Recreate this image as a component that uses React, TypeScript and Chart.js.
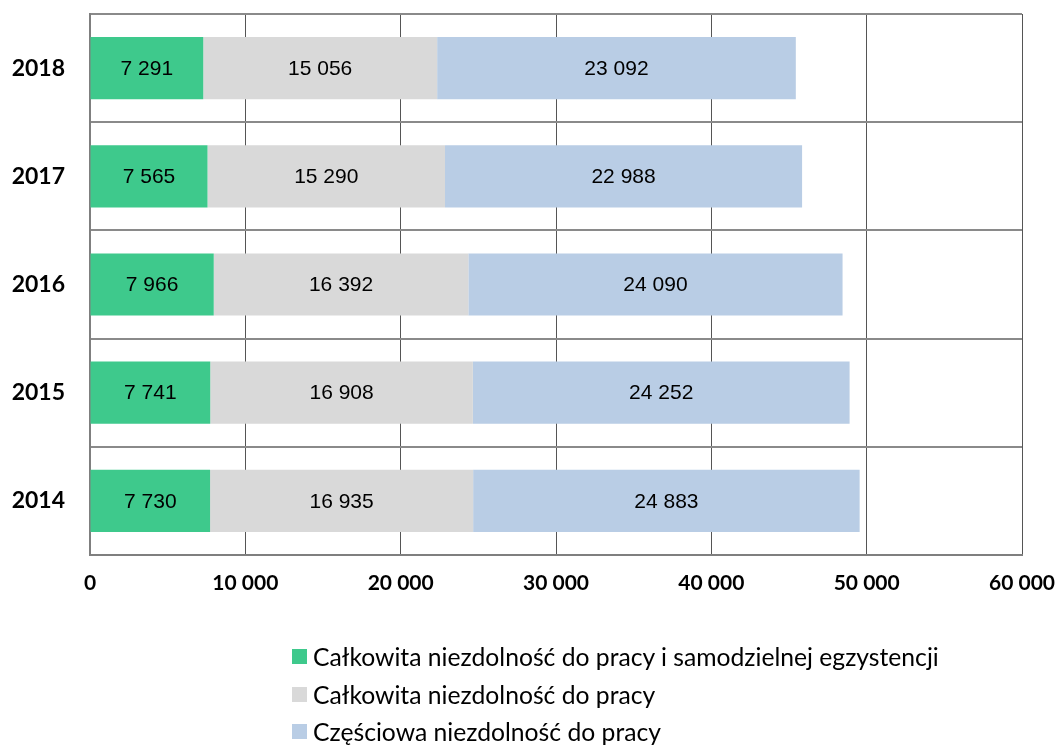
import React, { useEffect, useRef } from "react";
import { Chart, registerables } from "chart.js";

Chart.register(...registerables);

const years = ["2018", "2017", "2016", "2015", "2014"];
const seriesNames = [
  "Całkowita niezdolność do pracy i samodzielnej egzystencji",
  "Całkowita niezdolność do pracy",
  "Częściowa niezdolność do pracy",
];
const totalIncapacityIndependent = [7291, 7565, 7966, 7741, 7730];
const totalIncapacity = [15056, 15290, 16392, 16908, 16935];
const partialIncapacity = [23092, 22988, 24090, 24252, 24883];
const seriesColors = ["#3EC98C", "#D9D9D9", "#B9CDE5"];
const xMax = 60000;
const xStep = 10000;

const fmt = (v: number) => String(Math.round(v)).replace(/\B(?=(\d{3})+(?!\d))/g, " ");

const labelPlugin = {
  id: "barLabels",
  afterDatasetsDraw(chart: any) {
    const ctx = chart.ctx;
    ctx.save();
    ctx.font = "21px 'Liberation Sans', Arial, sans-serif";
    ctx.fillStyle = "#000";
    ctx.textAlign = "center";
    ctx.textBaseline = "middle";
    chart.data.datasets.forEach((ds: any, i: number) => {
      const meta = chart.getDatasetMeta(i);
      meta.data.forEach((el: any, j: number) => {
        const cx = (el.x + el.base) / 2;
        ctx.fillText(fmt(ds.data[j]), cx, el.y + 1);
      });
    });
    ctx.restore();
  },
};

export default function App() {
  const ref = useRef<HTMLCanvasElement>(null);
  useEffect(() => {
    document.body.style.margin = "0";
    const chart = new Chart(ref.current!, {
      type: "bar",
      data: {
        labels: years,
        datasets: [totalIncapacityIndependent, totalIncapacity, partialIncapacity].map((d, i) => ({
          label: seriesNames[i],
          data: d,
          backgroundColor: seriesColors[i],
          borderWidth: 0,
          categoryPercentage: 1,
          barPercentage: 0.575,
        })),
      },
      options: {
        indexAxis: "y",
        responsive: false,
        animation: false,
        devicePixelRatio: 1,
        layout: { padding: { left: 0, right: 39, top: 14, bottom: 130 } },
        plugins: { legend: { display: false }, tooltip: { enabled: false } },
        scales: {
          x: {
            stacked: true,
            min: 0,
            max: xMax,
            ticks: {
              stepSize: xStep,
              callback: (v: any) => fmt(Number(v)),
              font: { family: "Lato", weight: "bold", size: 21 },
              color: "#000",
              padding: 16,
              maxRotation: 0,
            },
            grid: { color: "#555555", lineWidth: 1, drawTicks: false },
            border: { color: "#7f7f7f", width: 2 },
            afterFit: (s: any) => {
              s.height = 60;
              s.paddingLeft = 0;
              s.paddingRight = 0;
            },
          },
          y: {
            stacked: true,
            ticks: {
              font: { family: "Lato", weight: "bold", size: 23 },
              color: "#000",
              padding: 25,
            },
            grid: { offset: true, color: "#8a8a8a", lineWidth: 2, drawTicks: false },
            border: { color: "#7f7f7f", width: 2 },
            afterFit: (s: any) => {
              s.width = 90;
              s.paddingTop = 0;
              s.paddingBottom = 0;
            },
          },
        },
      },
      plugins: [labelPlugin],
    } as any);
    return () => chart.destroy();
  }, []);

  return (
    <div style={{ position: "relative", width: 1061, height: 745 }}>
      <canvas ref={ref} width={1061} height={745} style={{ display: "block" }} />
      <div style={{ position: "absolute", left: 292, top: 638, fontFamily: "Lato, sans-serif", fontSize: 24.7, color: "#000" }}>
        {seriesNames.map((n, i) => (
          <div key={n} style={{ display: "flex", alignItems: "center", height: 37.5, whiteSpace: "nowrap" }}>
            <span style={{ width: 15, height: 15, background: seriesColors[i], display: "inline-block", marginRight: 6 }} />
            <span>{n}</span>
          </div>
        ))}
      </div>
    </div>
  );
}
